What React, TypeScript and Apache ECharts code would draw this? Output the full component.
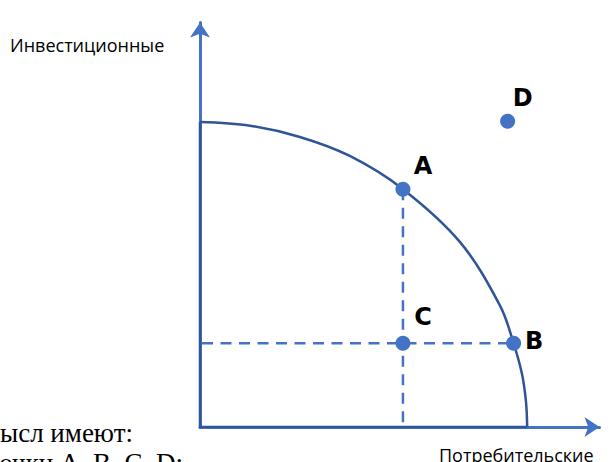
import React, { useEffect, useRef } from "react";
import * as echarts from "echarts";

// Production possibilities frontier (arbitrary units)
const frontierX = [0, 1.25, 2.5, 3.75, 5.08, 6.51, 7.51, 7.85, 8.06, 8.16, 8.19];
const frontierY = [7.54, 7.45, 7.17, 6.7, 5.88, 4.57, 3.0, 2.07, 1.31, 0.62, 0];

const pointNames = ["A", "B", "C", "D"];
const pointX = [5.08, 7.85, 5.08, 7.7];
const pointY = [5.88, 2.07, 2.07, 7.56];

const yAxisTitle = "Инвестиционные";
const xAxisTitle = "Потребительские";
const captionLine1 = "смысл имеют:";
const captionLine2 = "точки A, B, C, D:";

const AXIS_MAX_X = 10;
const AXIS_MAX_Y = 10;

export default function App() {
  const ref = useRef<HTMLDivElement>(null);

  useEffect(() => {
    if (!ref.current) return;
    const chart = echarts.init(ref.current, null, { renderer: "svg" });

    const frontier = frontierX.map((x, i) => [x, frontierY[i]]);
    const last = frontierX.length - 1;
    const frame = [
      [frontierX[0], frontierY[0]],
      [0, 0],
      [frontierX[last], frontierY[last]],
    ];
    const a = pointNames.indexOf("A");
    const b = pointNames.indexOf("B");
    const vDash = [
      [pointX[a], pointY[a]],
      [pointX[a], 0],
    ];
    const hDash = [
      [0, pointY[b]],
      [pointX[b], pointY[b]],
    ];

    const labelOffsets: Record<string, any> = {
      A: { position: "top", distance: 4, offset: [20, 0] },
      B: { position: "right", distance: 4, offset: [0, -2] },
      C: { position: "top", distance: 7, offset: [20, 0] },
      D: { position: "top", distance: 4, offset: [15, 0] },
    };

    const points = pointNames.map((n, i) => ({
      name: n,
      value: [pointX[i], pointY[i]],
      label: {
        show: true,
        formatter: n,
        color: "#000",
        fontFamily: "DejaVu Sans",
        fontWeight: "bold",
        fontSize: 24,
        ...labelOffsets[n],
      },
    }));

    const axisCommon = {
      type: "value" as const,
      min: 0,
      axisLabel: { show: false },
      axisTick: { show: false },
      splitLine: { show: false },
      axisLine: {
        show: true,
        symbol: ["none", "arrow"],
        symbolSize: [15, 15],
        lineStyle: { color: "#4472C4", width: 3 },
      },
    };

    chart.setOption({
      animation: false,
      grid: {
        left: 200,
        right: 10.5,
        top: 22.5,
        bottom: 35,
        containLabel: false,
        outerBoundsMode: "none",
      },
      xAxis: { ...axisCommon, max: AXIS_MAX_X },
      yAxis: { ...axisCommon, max: AXIS_MAX_Y },
      series: [
        {
          type: "line",
          data: vDash,
          symbol: "none",
          lineStyle: { color: "#4472C4", width: 2.5, type: [11, 7.5] },
          z: 2,
        },
        {
          type: "line",
          data: hDash,
          symbol: "none",
          lineStyle: { color: "#4472C4", width: 2.5, type: [11, 7.5], dashOffset: -2 },
          z: 2,
        },
        {
          type: "line",
          data: frame,
          symbol: "none",
          lineStyle: { color: "#2F5597", width: 2.5, join: "miter" },
          z: 3,
        },
        {
          type: "line",
          data: frontier,
          symbol: "none",
          smooth: 0.35,
          lineStyle: { color: "#2F5597", width: 2.5 },
          z: 3,
        },
        {
          type: "scatter",
          data: points,
          symbol: "circle",
          symbolSize: 15,
          itemStyle: { color: "#4472C4", opacity: 1 },
          z: 4,
        },
      ],
      graphic: [
        {
          type: "text",
          x: 10,
          y: 45,
          style: {
            text: yAxisTitle,
            fontFamily: "Open Sans",
            fontSize: 18,
            fill: "#000",
            verticalAlign: "middle",
            align: "left",
          },
        },
        {
          type: "text",
          x: 439,
          y: 455,
          style: {
            text: xAxisTitle,
            fontFamily: "Open Sans",
            fontSize: 18,
            fill: "#000",
            verticalAlign: "middle",
            align: "left",
          },
        },
        {
          type: "text",
          x: 133,
          y: 433,
          style: {
            text: captionLine1,
            fontFamily: "Liberation Serif",
            fontSize: 27,
            fill: "#000",
            verticalAlign: "middle",
            align: "right",
          },
        },
        {
          type: "text",
          x: 183,
          y: 463,
          style: {
            text: captionLine2,
            fontFamily: "Liberation Serif",
            fontSize: 27,
            fill: "#000",
            verticalAlign: "middle",
            align: "right",
          },
        },
      ],
    });

    return () => chart.dispose();
  }, []);

  return (
    <div
      ref={ref}
      style={{ position: "fixed", left: 0, top: 0, width: 610, height: 462, background: "#fff" }}
    />
  );
}
